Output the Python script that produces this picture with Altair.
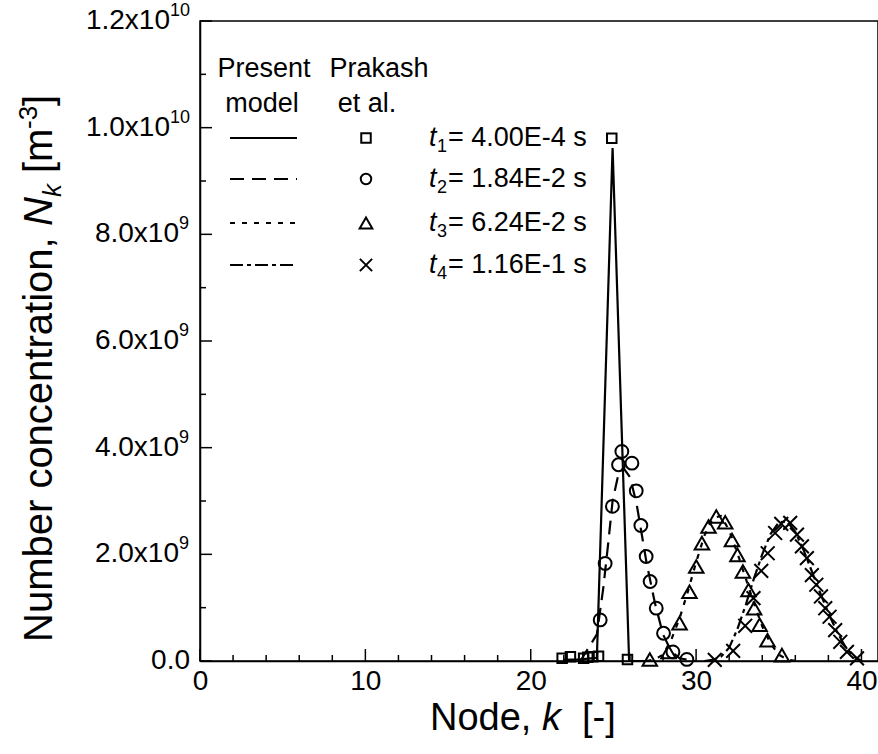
import altair as alt
import pandas as pd

FONT = "Liberation Sans"

# ---------------- data ----------------
# Present model (lines)
t1_k = [22.0, 23.0, 24.0, 24.95, 25.95, 27.0]
t1_n = [0.02e9, 0.03e9, 0.06e9, 9.62e9, 0.0, 0.0]

t2_k = [23.0, 24.0, 24.4, 24.7, 24.95, 25.3, 25.6, 26.0, 26.4, 26.7, 27.0, 27.5, 28.0, 28.5, 29.0, 30.0]
t2_n = [0.0, 0.5e9, 1.4e9, 2.25e9, 3.0e9, 3.5e9, 3.62e9, 3.45e9, 2.95e9, 2.4e9, 1.85e9, 1.1e9, 0.5e9, 0.18e9, 0.05e9, 0.0]

t3_k = [27.0, 27.5, 28.0, 28.5, 29.0, 29.5, 30.0, 30.5, 31.0, 31.5, 32.0, 32.5, 33.0, 33.5, 34.0, 34.5, 35.0, 35.5, 36.0]
t3_n = [0.0, 0.03e9, 0.12e9, 0.4e9, 0.8e9, 1.3e9, 1.85e9, 2.35e9, 2.68e9, 2.72e9, 2.45e9, 2.02e9, 1.55e9,
        1.08e9, 0.65e9, 0.33e9, 0.12e9, 0.03e9, 0.0]

t4_k = [30.5, 31.0, 31.5, 32.0, 32.5, 33.0, 33.5, 34.0, 34.5, 35.0, 35.5, 36.0, 36.5, 37.0, 37.5, 38.0,
        38.5, 39.0, 39.5, 40.0]
t4_n = [0.0, 0.02e9, 0.08e9, 0.25e9, 0.6e9, 1.05e9, 1.55e9, 2.0e9, 2.38e9, 2.6e9, 2.62e9, 2.42e9, 2.08e9,
        1.68e9, 1.28e9, 0.9e9, 0.56e9, 0.28e9, 0.09e9, 0.0]

# Prakash et al. (markers)
sq_k = [21.9, 22.4, 23.2, 23.45, 23.75, 24.1, 24.9, 25.85]
sq_n = [0.05e9, 0.08e9, 0.05e9, 0.07e9, 0.08e9, 0.09e9, 9.8e9, 0.03e9]

ci_k = [24.2, 24.5, 24.94, 25.31, 25.51, 26.12, 26.38, 26.66, 26.98, 27.22, 27.59, 28.03, 28.6, 29.44]
ci_n = [0.77e9, 1.83e9, 2.90e9, 3.68e9, 3.93e9, 3.71e9, 3.19e9, 2.54e9, 1.96e9, 1.49e9, 0.99e9, 0.52e9,
        0.17e9, 0.03e9]

tr_k = [27.2, 28.33, 29.0, 29.6, 30.01, 30.35, 30.75, 31.22, 31.76, 32.17, 32.5, 32.83, 33.17, 33.51,
        33.84, 34.32, 35.19]
tr_n = [0.03e9, 0.17e9, 0.71e9, 1.30e9, 1.77e9, 2.21e9, 2.52e9, 2.71e9, 2.60e9, 2.27e9, 1.99e9, 1.68e9,
        1.33e9, 0.99e9, 0.68e9, 0.39e9, 0.11e9]

cr_k = [31.13, 32.24, 32.97, 33.47, 33.94, 34.33, 34.78, 35.15, 35.69, 36.10, 36.40, 36.70, 37.0, 37.27,
        37.55, 37.81, 38.07, 38.41, 38.72, 39.12, 39.73]
cr_n = [0.02e9, 0.19e9, 0.66e9, 1.18e9, 1.69e9, 2.02e9, 2.40e9, 2.57e9, 2.59e9, 2.37e9, 2.15e9, 1.93e9,
        1.61e9, 1.43e9, 1.21e9, 0.99e9, 0.83e9, 0.58e9, 0.36e9, 0.17e9, 0.05e9]

# axis ticks / labels
x_major = [0, 10, 20, 30, 40]
x_minor = [2, 4, 6, 8, 12, 14, 16, 18, 22, 24, 26, 28, 32, 34, 36, 38]
y_major = [0.0, 2e9, 4e9, 6e9, 8e9, 1e10, 1.2e10]
y_minor = [1e9, 3e9, 5e9, 7e9, 9e9, 1.1e10]
y_mant = ["0.0", "2.0x10", "4.0x10", "6.0x10", "8.0x10", "1.0x10", "1.2x10"]
y_exp = ["", "9", "9", "9", "9", "10", "10"]

legend_times = ["4.00E-4", "1.84E-2", "6.24E-2", "1.16E-1"]

# ---------------- chart ----------------
W, H = 678, 640
xs = alt.Scale(domain=[0, 41], nice=False, zero=False)
ys = alt.Scale(domain=[0, 1.2e10], nice=False, zero=False)
xaxis = alt.Axis(values=x_major, ticks=False, grid=False, title=None, domainColor="black",
                 domainWidth=1.5, labelFont=FONT, labelFontSize=28, labelColor="black",
                 labelPadding=6, labelFlush=False, labelOverlap=False, format="d")
yaxis = alt.Axis(labels=False, ticks=False, grid=False, title=None, domainColor="black",
                 domainWidth=1.5)
X = alt.X("k:Q", scale=xs, axis=xaxis)
Y = alt.Y("n:Q", scale=ys, axis=yaxis)


def df(k, n):
    return pd.DataFrame({"k": k, "n": n})


one = pd.DataFrame({"_": [0]})
layers = []

# model lines
dashes = [None, [14, 8], [5, 7], [13, 4, 4, 4]]
for (k, n), d in zip([(t1_k, t1_n), (t2_k, t2_n), (t3_k, t3_n), (t4_k, t4_n)], dashes):
    kw = dict(color="black", strokeWidth=2.2)
    if d:
        kw["strokeDash"] = d
    layers.append(alt.Chart(df(k, n)).mark_line(**kw).encode(x=X, y=Y))

# markers
XPATH = "M-1,-1L1,1M-1,1L1,-1"
marks = [("square", 90, sq_k, sq_n), ("circle", 165, ci_k, ci_n),
         ("triangle-up", 210, tr_k, tr_n), (XPATH, 190, cr_k, cr_n)]
for shape, size, k, n in marks:
    layers.append(alt.Chart(df(k, n)).mark_point(shape=shape, size=size, filled=False, color="black",
                                                 strokeWidth=2, opacity=1).encode(x=X, y=Y))

# inward ticks
ymaj = pd.DataFrame({"n": y_major})
ymin = pd.DataFrame({"n": y_minor})
layers.append(alt.Chart(ymaj).mark_tick(orient="horizontal", size=12, thickness=1.5, color="black",
                                        opacity=1).encode(y=Y, x=alt.value(6)))
layers.append(alt.Chart(ymin).mark_tick(orient="horizontal", size=6, thickness=1.5, color="black",
                                        opacity=1).encode(y=Y, x=alt.value(3)))
xmaj = pd.DataFrame({"k": x_major})
xmin = pd.DataFrame({"k": x_minor})
layers.append(alt.Chart(xmaj).mark_tick(orient="vertical", size=12, thickness=1.5, color="black",
                                        opacity=1).encode(x=X, y=alt.value(H - 6)))
layers.append(alt.Chart(xmin).mark_tick(orient="vertical", size=6, thickness=1.5, color="black",
                                        opacity=1).encode(x=X, y=alt.value(H - 3)))

# y tick labels with superscript exponents
ylab = pd.DataFrame({"n": y_major, "mant": y_mant, "exp": y_exp})
for e, off in [("", -10), ("9", -21), ("10", -30)]:
    base = alt.Chart(ylab).transform_filter(alt.datum.exp == e)
    layers.append(base.mark_text(align="right", baseline="middle", font=FONT, fontSize=28,
                                 color="black").encode(y=Y, x=alt.value(off), text="mant:N"))
    if e:
        layers.append(base.mark_text(align="left", baseline="middle", font=FONT, fontSize=18, dy=-10,
                                     color="black").encode(y=Y, x=alt.value(off), text="exp:N"))


def txt(s, x, y, size=27, align="left", baseline="alphabetic", style="normal", angle=0):
    kw = dict(align=align, baseline=baseline, font=FONT, fontSize=size, color="black",
              fontStyle=style)
    if angle:
        kw["angle"] = angle
    return alt.Chart(one).mark_text(**kw).encode(x=alt.value(x), y=alt.value(y), text=alt.value(s))


# legend
layers += [txt("Present", 64, 56, align="center"), txt("model", 62, 91, align="center"),
           txt("Prakash", 179, 56, align="center"), txt("et al.", 167, 91, align="center")]
row_y = [117, 158, 202, 244]
leg_shapes = [("square", 90), ("circle", 110), ("triangle-up", 160), (XPATH, 150)]
for i, (yy, d, (shape, size), tt) in enumerate(zip(row_y, dashes, leg_shapes, legend_times)):
    kw = dict(color="black", strokeWidth=2.2)
    if d:
        kw["strokeDash"] = d
    layers.append(alt.Chart(one).mark_rule(**kw).encode(x=alt.value(30), x2=alt.value(97),
                                                       y=alt.value(yy)))
    layers.append(alt.Chart(one).mark_point(shape=shape, size=size, filled=False, color="black",
                                            strokeWidth=2, opacity=1)
                  .encode(x=alt.value(166), y=alt.value(yy)))
    layers.append(txt("t", 229, yy, baseline="middle", style="italic"))
    layers.append(txt(str(i + 1), 237, yy + 9, size=18, baseline="middle"))
    layers.append(txt("= " + tt + " s", 248, yy, baseline="middle"))

# axis titles
layers += [txt("Node,", 230, 709, size=38), txt("k", 342, 709, size=38, style="italic"),
           txt("[-]", 382, 709, size=38)]
layers += [txt("Number concentration,", -148, 621, size=40, angle=270),
           txt("N", -148, 205, size=40, angle=270, style="italic"),
           txt("k", -139, 176, size=26, angle=270, style="italic"),
           txt("[m", -148, 152, size=40, angle=270),
           txt("-3", -163, 108, size=26, angle=270),
           txt("]", -148, 85, size=40, angle=270)]

chart = alt.layer(*layers).properties(
    width=W, height=H,
    autosize=alt.AutoSizeParams(type="none"),
    padding={"left": 200, "top": 21, "right": 0, "bottom": 93},
    background="white",
).configure_view(stroke="black", strokeWidth=1.5)

chart.save("out.html", embed_options={"renderer": "svg", "actions": False})
